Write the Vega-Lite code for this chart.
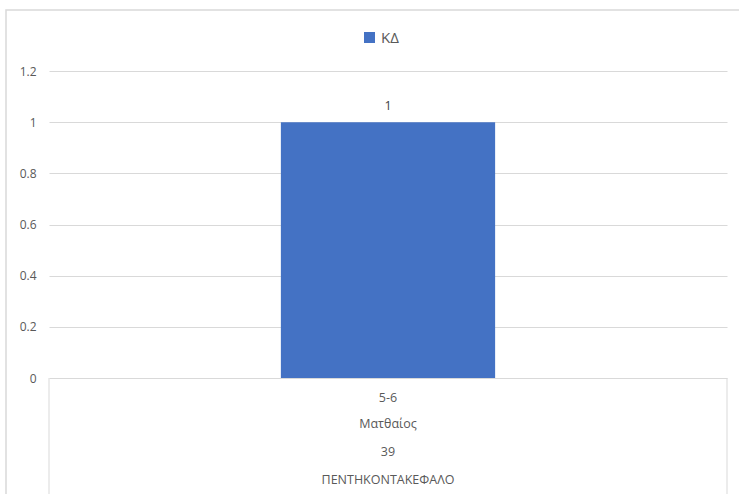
{
  "$schema": "https://vega.github.io/schema/vega-lite/v6.json",
  "autosize": {"type": "none"},
  "padding": {"left": 6, "top": 10, "right": 0, "bottom": 0},
  "width": 764,
  "height": 490,
  "background": "white",
  "config": {
    "view": {"stroke": "#d9d9d9", "strokeWidth": 1.5},
    "font": "Open Sans",
    "text": {"font": "Open Sans"}
  },
  "data": {
    "values": [
      {"age": "5-6", "name": "Ματθαίος", "num": "39", "village": "ΠΕΝΤΗΚΟΝΤΑΚΕΦΑΛΟ", "series": "ΚΔ", "value": 1}
    ]
  },
  "encoding": {
    "x": {
      "field": "age",
      "type": "nominal",
      "axis": null,
      "scale": {"type": "band", "range": [43, 721], "paddingInner": 0, "paddingOuter": 0}
    }
  },
  "layer": [
    {
      "mark": {"type": "bar", "width": {"band": 0.316}},
      "encoding": {
        "y": {
          "field": "value",
          "type": "quantitative",
          "scale": {"domain": [0, 1.2], "range": [368, 61], "nice": false, "zero": true},
          "axis": {
            "title": null,
            "values": [0, 0.2, 0.4, 0.6, 0.8, 1, 1.2],
            "format": "~g",
            "offset": -43,
            "domain": false,
            "ticks": false,
            "labelPadding": 13,
            "labelFont": "Open Sans",
            "labelFontSize": 12,
            "labelColor": "#595959",
            "grid": true,
            "gridColor": "#d9d9d9",
            "gridWidth": 1
          }
        },
        "color": {
          "field": "series",
          "type": "nominal",
          "scale": {"range": ["#4472C4"]},
          "legend": {
            "title": null,
            "orient": "none",
            "legendX": 356,
            "legendY": 20,
            "symbolType": "square",
            "symbolSize": 121,
            "symbolStrokeWidth": 0,
            "labelFont": "Open Sans",
            "labelFontSize": 15,
            "labelColor": "#595959",
            "labelOffset": 4
          }
        }
      }
    },
    {
      "mark": {"type": "text", "baseline": "alphabetic", "dy": -12, "fontSize": 12.5, "color": "#404040"},
      "encoding": {
        "y": {"field": "value", "type": "quantitative"},
        "text": {"field": "value", "type": "quantitative"}
      }
    },
    {
      "mark": {"type": "rule", "color": "#d9d9d9", "strokeWidth": 1},
      "encoding": {
        "x": {"field": "age", "type": "nominal", "bandPosition": 0},
        "y": {"datum": 0},
        "y2": {"datum": -0.5}
      }
    },
    {
      "mark": {"type": "rule", "color": "#d9d9d9", "strokeWidth": 1},
      "encoding": {
        "x": {"field": "age", "type": "nominal", "bandPosition": 1},
        "y": {"datum": 0},
        "y2": {"datum": -0.5}
      }
    },
    {
      "mark": {"type": "text", "baseline": "middle", "dy": 20, "fontSize": 12.5, "color": "#595959"},
      "encoding": {"y": {"datum": 0}, "text": {"field": "age"}}
    },
    {
      "mark": {"type": "text", "baseline": "middle", "dy": 46, "fontSize": 12.5, "color": "#595959"},
      "encoding": {"y": {"datum": 0}, "text": {"field": "name"}}
    },
    {
      "mark": {"type": "text", "baseline": "middle", "dy": 74, "fontSize": 12.5, "color": "#595959"},
      "encoding": {"y": {"datum": 0}, "text": {"field": "num"}}
    },
    {
      "mark": {"type": "text", "baseline": "middle", "dy": 102, "fontSize": 12.5, "color": "#595959"},
      "encoding": {"y": {"datum": 0}, "text": {"field": "village"}}
    }
  ]
}
